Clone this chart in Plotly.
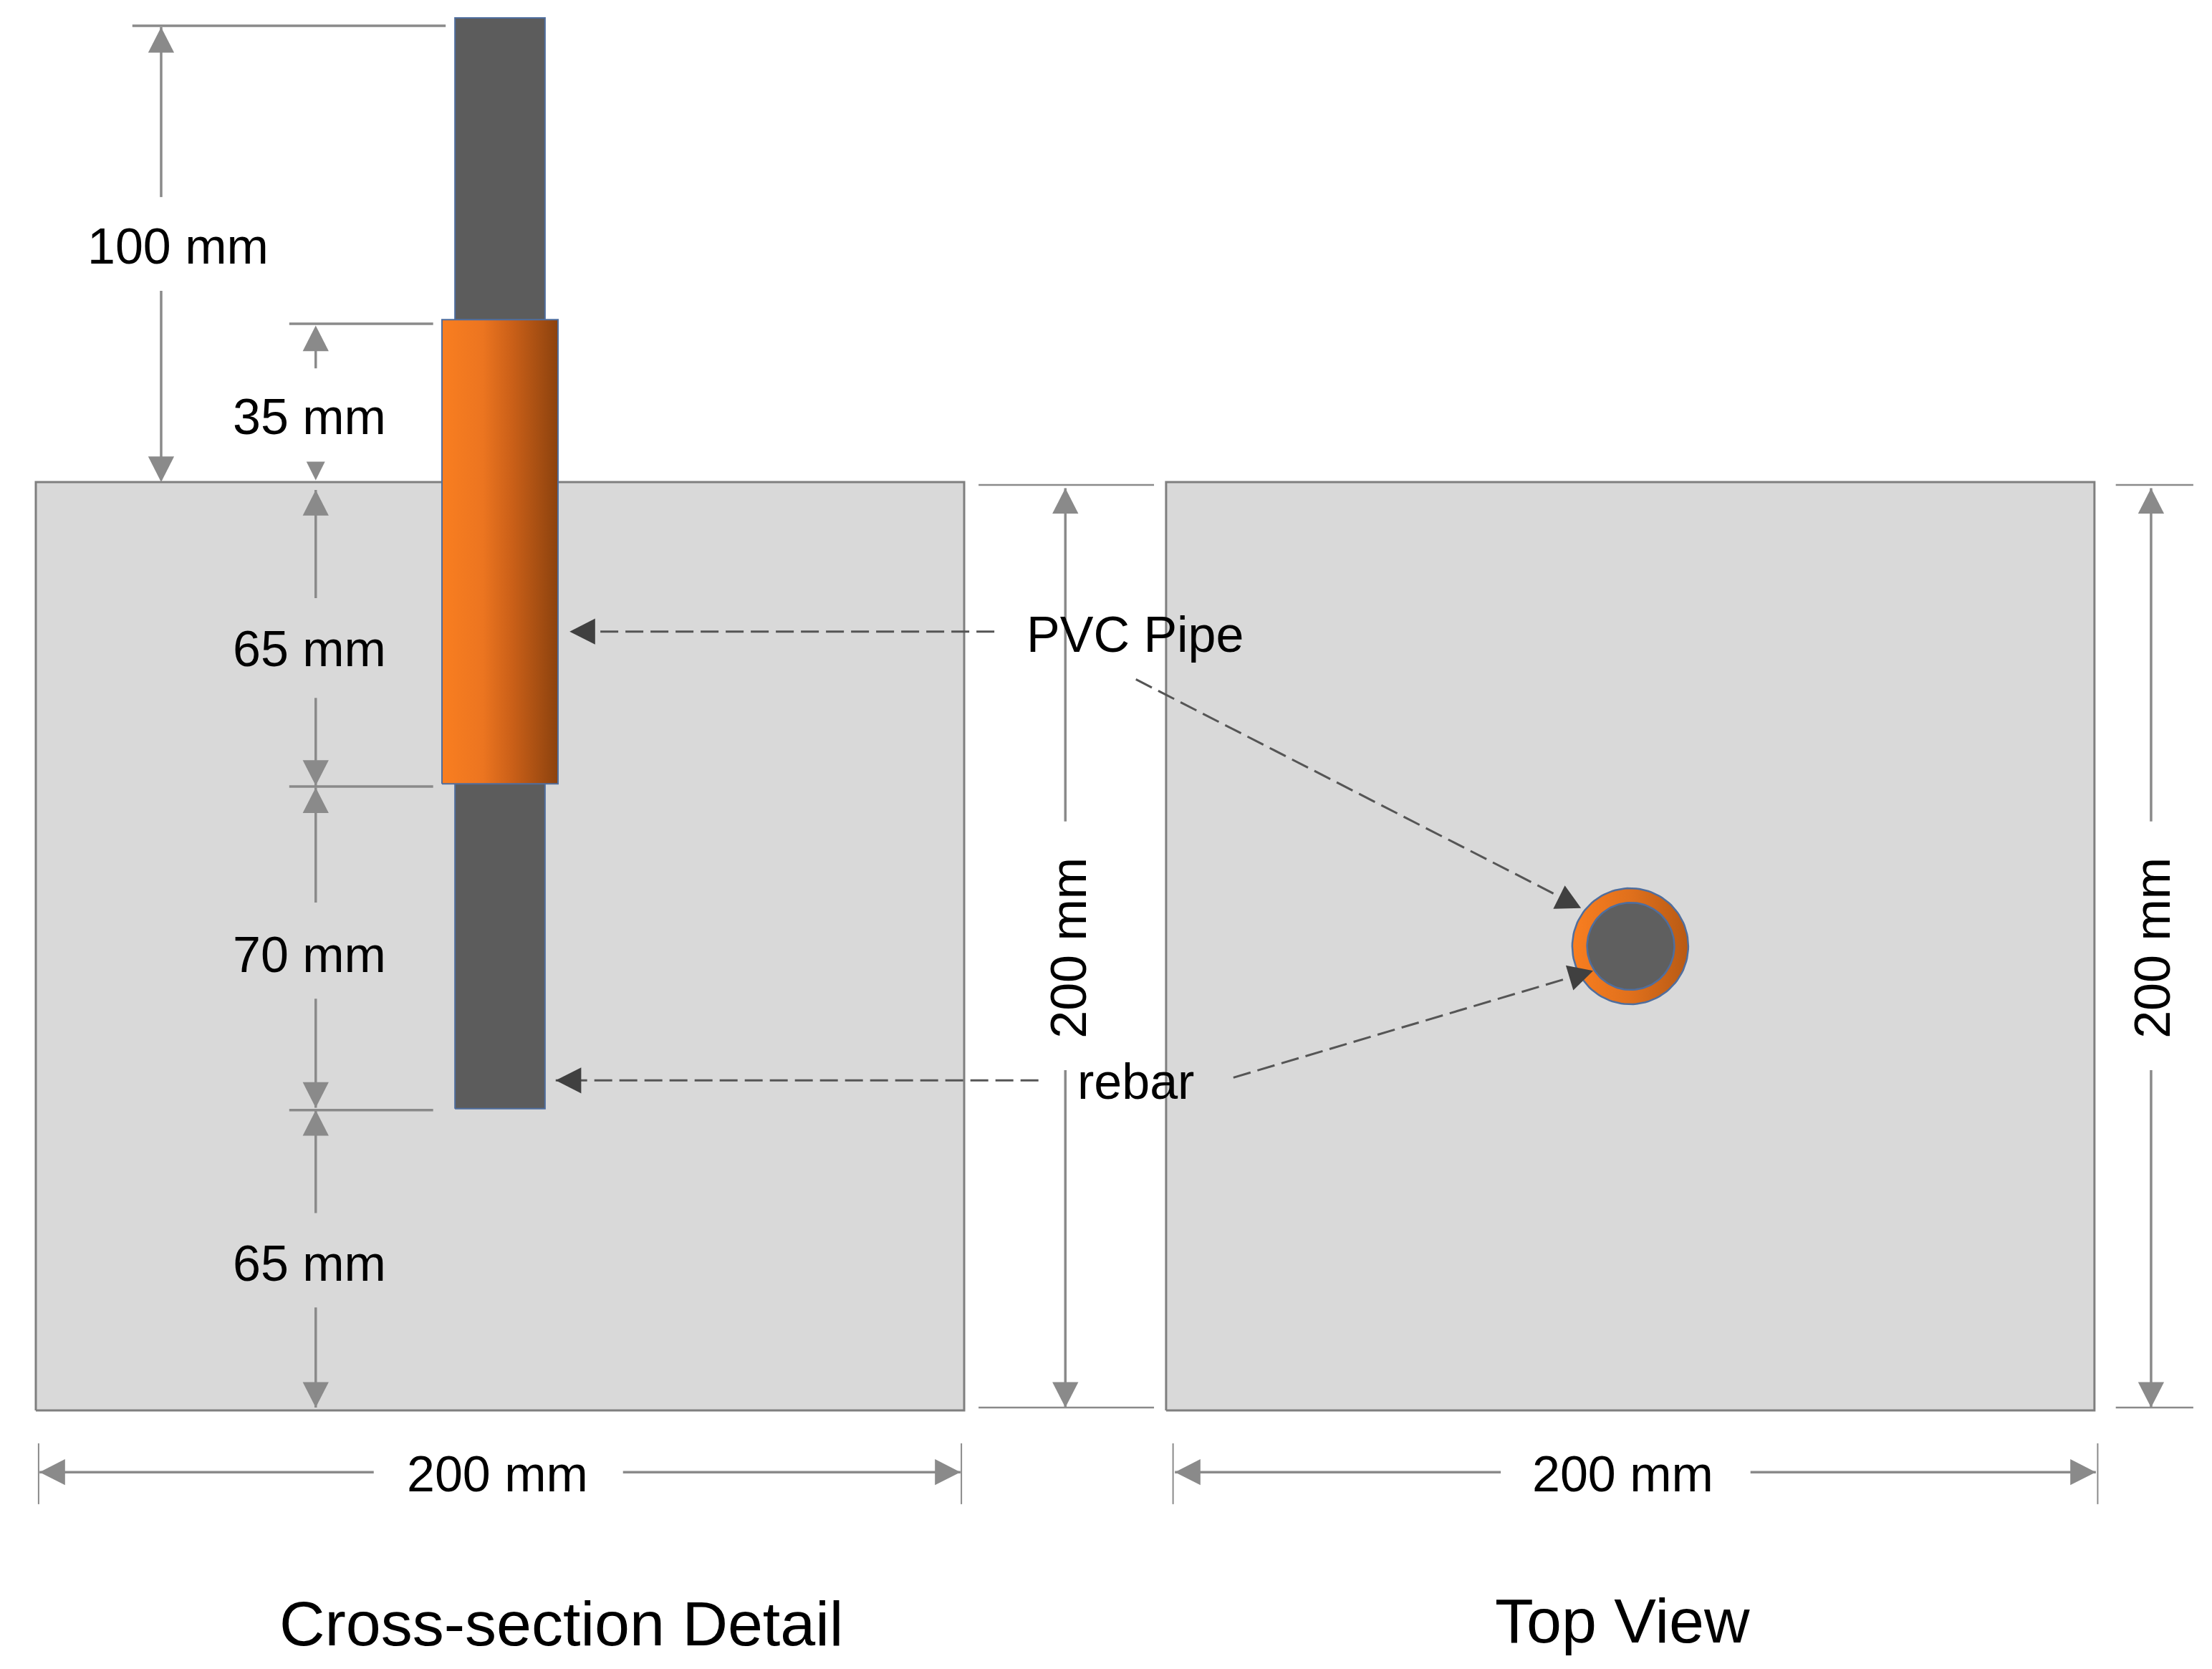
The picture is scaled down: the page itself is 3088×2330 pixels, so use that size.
import numpy as np
import plotly.graph_objects as go

# ---- values (millimetres) ----
block_size = 200
top_view_offset = 243.5
section_edges = [0, 65, 135, 200, 235, 300]
rebar_span = [65, 300]
pipe_span = [135, 235]
rebar_diameter = 19.4
pipe_diameter = 25.0
plan_rebar_diameter = 18.8
plan_pipe_diameter = 25.0
section_labels = ["65 mm", "70 mm", "65 mm", "35 mm"]
section_label_y = [31.6, 98.2, 164.1, 214.0]
section_gaps = [[22.2, 42.5], [88.7, 109.4], [153.5, 175.0], [204.4, 224.5]]
stickout_label = "100 mm"
width_label = "200 mm"
callouts = ["PVC Pipe", "rebar"]
titles = ["Cross-section Detail", "Top View"]

PX = 6.48  # page pixels per mm
GRAY = "#8A8A8A"
DARK = "#404040"
EDGE = "#4F6E9E"
FONT = "Liberation Sans"
ORANGE = [[0, "#F97E20"], [0.35, "#EC7520"], [0.6, "#CB6018"], [1, "#8C420E"]]

fig = go.Figure()


def poly(x, y, fill=None, line=None, lw=0, grad=None):
    kw = dict(fillgradient=dict(type="horizontal", colorscale=grad)) if grad else dict(fillcolor=fill)
    fig.add_trace(go.Scatter(x=list(x), y=list(y), mode="lines", fill="toself",
                             line=dict(color=line or "rgba(0,0,0,0)", width=lw),
                             hoverinfo="skip", showlegend=False, **kw))


def rect(x0, x1, y0, y1, **kw):
    poly([x0, x1, x1, x0, x0], [y0, y0, y1, y1, y0], **kw)


def circle(cx, cy, d, **kw):
    t = np.linspace(0, 2 * np.pi, 121)
    poly(cx + d / 2 * np.cos(t), cy + d / 2 * np.sin(t), **kw)


def seg(x, y, color=GRAY, w=3.5, dash=None):
    fig.add_trace(go.Scatter(x=list(x), y=list(y), mode="lines",
                             line=dict(color=color, width=w, dash=dash),
                             hoverinfo="skip", showlegend=False))


def head(tx, ty, dx, dy, length=5.5, width=5.6, color=GRAY):
    n = np.hypot(dx, dy)
    ux, uy = dx / n, dy / n
    bx, by = tx - ux * length, ty - uy * length
    px, py = -uy * width / 2, ux * width / 2
    poly([tx, bx + px, bx - px, tx], [ty, by + py, by - py, ty], fill=color)


def vdim(x, top, bottom, gap):
    seg([x, x], [top, gap[1]])
    seg([x, x], [gap[0], bottom])
    head(x, top, 0, 1)
    head(x, bottom, 0, -1)


def hdim(y, left, right, gap):
    seg([left, gap[0]], [y, y])
    seg([gap[1], right], [y, y])
    head(left, y, -1, 0)
    head(right, y, 1, 0)


cx1 = block_size / 2
cx2 = top_view_offset + block_size / 2
cy2 = block_size / 2

# blocks
rect(0, block_size, 0, block_size, fill="#D9D9D9", line="#7F7F7F", lw=3)
rect(top_view_offset, top_view_offset + block_size, 0, block_size, fill="#D9D9D9", line="#7F7F7F", lw=3)

# cross-section: rebar and pipe
rect(cx1 - rebar_diameter / 2, cx1 + rebar_diameter / 2, rebar_span[0], rebar_span[1],
     fill="#5C5C5C", line=EDGE, lw=2)
rect(cx1 - pipe_diameter / 2, cx1 + pipe_diameter / 2, pipe_span[0], pipe_span[1],
     grad=ORANGE, line=EDGE, lw=2)

# top view: pipe and rebar
circle(cx2, cy2, plan_pipe_diameter, grad=[[0, "#F97E20"], [0.5, "#E0701C"], [1, "#B85A14"]], line=EDGE, lw=2.5)
circle(cx2 + 0.1, cy2, plan_rebar_diameter, fill="#5F5F5F", line=EDGE, lw=2.5)

# extension lines
seg([20.8, 88.3], [298.3, 298.3])
seg([54.6, 85.6], [section_edges[1] - 0.3, section_edges[1] - 0.3])
seg([54.6, 85.6], [section_edges[2] - 0.6, section_edges[2] - 0.6])
seg([54.6, 85.6], [section_edges[4] - 0.9, section_edges[4] - 0.9])
for ext in ([203.1, 240.9], [448.1, 464.8]):
    seg(ext, [199.4, 199.4], w=2.5)
    seg(ext, [0.6, 0.6], w=2.5)
for tick in [0.6, 199.4, 245.0, 444.2]:
    seg([tick, tick], [-7.1, -20.2], w=2)

# stick-out dimension
seg([27.0, 27.0], [298.0, 261.4])
seg([27.0, 27.0], [241.2, 200.5])
head(27.0, 298.0, 0, 1)
head(27.0, 200.0, 0, -1)

# stacked section dimensions
DX = 60.3
vdim(DX, section_edges[1] - 0.3, 0.6, section_gaps[0])
vdim(DX, section_edges[2] - 0.8, section_edges[1] + 0.2, section_gaps[1])
vdim(DX, 198.3, section_edges[2] - 0.4, section_gaps[2])
seg([DX, DX], [section_gaps[3][1], 233.0])
head(DX, 233.7, 0, 1)
head(DX, 200.4, 0, -1, length=4.0, width=4.0)

# overall dimensions
vdim(221.8, 198.7, 0.6, [73.3, 126.9])
vdim(455.7, 198.7, 0.6, [73.3, 126.9])
hdim(-13.3, 0.8, 199.2, [72.8, 126.5])
hdim(-13.3, 245.4, 443.8, [315.6, 369.4])

# dashed leader lines
D = "25px,10px"
LEAD = "#555555"
seg([206.5, 115.5], [167.8, 167.8], LEAD, 3, D)
head(115.0, 167.8, -1, 0, 5.5, 5.6, DARK)
seg([216.0, 112.0], [71.1, 71.1], LEAD, 3, D)
head(112.0, 71.1, -1, 0, 5.5, 5.6, DARK)
seg([237.0, 330.0], [157.5, 109.8], LEAD, 3, D)
head(332.9, 108.2, 1, -0.5, 5.3, 5.6, DARK)
seg([258.0, 332.0], [71.7, 93.7], LEAD, 3, D)
head(335.5, 94.7, 1, 0.3, 5.3, 5.6, DARK)


def label(x, y, text, size=70, angle=0):
    fig.add_annotation(x=x, y=y, text=text, showarrow=False, textangle=angle,
                       xanchor="center", yanchor="middle",
                       font=dict(family=FONT, size=size, color="#000000"))


label(30.6, 250.7, stickout_label)
for txt, ly in zip(section_labels, section_label_y):
    label(59.0, ly, txt)
label(99.5, -13.7, width_label)
label(341.9, -13.7, width_label)
label(222.5, 99.7, width_label, angle=-90)
label(456.0, 99.7, width_label, angle=-90)
label(236.8, 167.2, callouts[0])
label(237.0, 70.8, callouts[1])
label(113.2, -45.9, titles[0], size=88)
label(341.8, -45.3, titles[1], size=88)

fig.update_layout(
    width=3088, height=2330, margin=dict(l=0, r=0, t=0, b=0),
    paper_bgcolor="#FFFFFF", plot_bgcolor="#FFFFFF", showlegend=False,
    xaxis=dict(visible=False, range=[-50 / PX, (3088 - 50) / PX], fixedrange=True),
    yaxis=dict(visible=False, range=[(1969 - 2330) / PX, 1969 / PX], fixedrange=True),
)
fig.write_html("out.html", config={"displayModeBar": False},
               post_script="document.body.style.margin='0';document.body.style.overflow='hidden';")
